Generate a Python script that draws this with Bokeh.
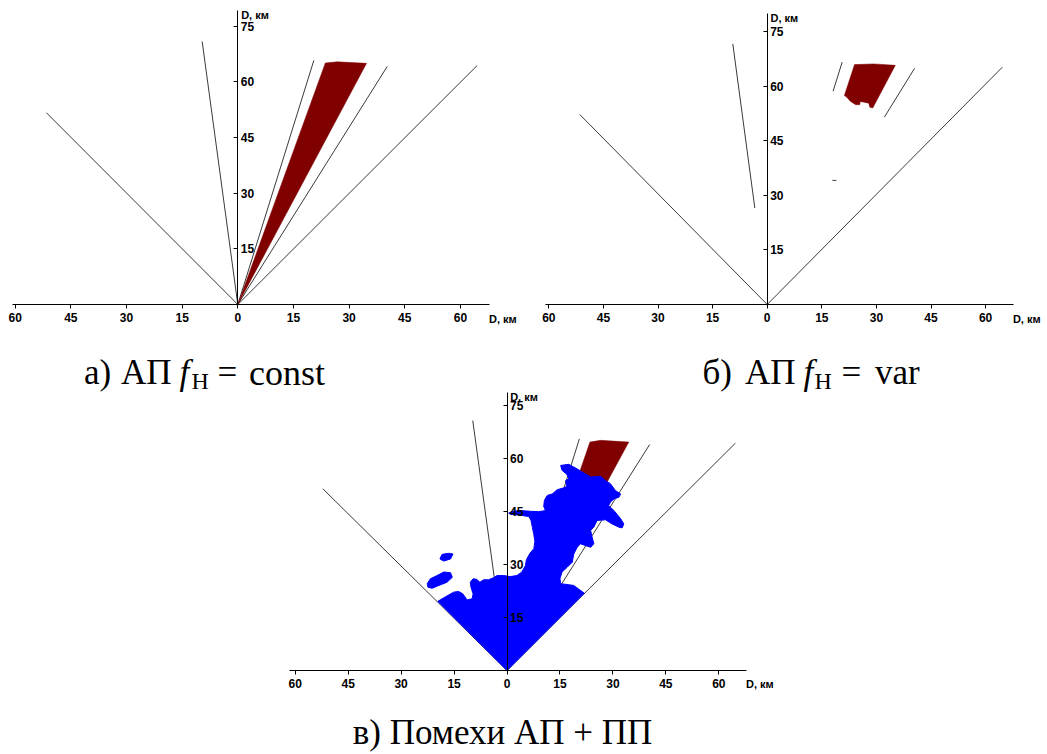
from bokeh.plotting import figure
from bokeh.models import Range1d, LinearAxis, FixedTicker
from bokeh.embed import file_html
from bokeh.resources import INLINE
from bokeh.core.properties import value

W, H = 1047, 754

# ---------------- data (km) ----------------
X_TICKS = [-60, -45, -30, -15, 0, 15, 30, 45, 60]
X_TICK_LABELS = ["60", "45", "30", "15", "0", "15", "30", "45", "60"]
Y_TICKS = [15, 30, 45, 60, 75]
Y_TICK_LABELS = ["15", "30", "45", "60", "75"]
AXIS_TITLE = "D, км"

# panel а) : beam lines from the origin and the clutter wedge
A_LINE_X = [-51.6, -9.6, 20.5, 40.3, 64.5]
A_LINE_Y = [51.7, 70.9, 65.8, 64.2, 64.4]
A_RED_X = [0.0, 23.6, 26.8, 34.7]
A_RED_Y = [0.0, 65.1, 65.4, 65.0]

# panel б)
B_LINE_X = [-51.5, 64.6]
B_LINE_Y = [52.2, 65.2]
B_SEG_X0 = [-9.45, 20.6, 40.5, 17.9]
B_SEG_Y0 = [71.6, 66.6, 64.9, 34.1]
B_SEG_X1 = [-3.4, 18.1, 32.2, 19.0]
B_SEG_Y1 = [26.5, 58.6, 51.5, 34.1]
B_RED_X = [24.0, 29.3, 35.2, 29.0, 28.2, 27.9, 25.6, 25.4, 24.3, 22.9, 21.8, 21.2]
B_RED_Y = [65.9, 66.1, 65.7, 54.0, 54.2, 55.3, 55.8, 54.9, 54.9, 55.8, 57.0, 57.4]

# panel в)
C_LINE_X = [-52.2, -9.7, 20.5, 40.4, 64.7]
C_LINE_Y = [51.5, 70.8, 65.6, 64.0, 64.4]
C_RED_X = [23.5, 26.5, 34.5, 27.6, 19.8]
C_RED_Y = [64.7, 65.2, 64.7, 52.0, 54.0]
C_BLUE_X = [0.0, -19.6, -17.9, -16.5, -15.1, -13.7, -12.5, -11.3, -9.9, -9.6, -10.2, -10.4,
            -9.6, -8.5, -7.7, -6.6, -5.2, -3.8, -2.8, -0.9, 0.9, 2.8, 4.2, 5.2, 5.5, 6.5,
            7.6, 7.9, 7.6, 7.2, 6.8, 6.2, 3.8, 1.0, 0.5, 1.5, 3.8, 6.7, 9.0, 10.9, 10.4,
            10.6, 11.4, 12.8, 14.2, 16.6, 16.9, 16.6, 17.5, 17.0, 15.6, 15.2, 17.5, 19.9,
            21.3, 23.7, 26.5, 27.9, 29.3, 30.7, 32.2, 31.7, 30.3, 29.3, 28.8, 30.3, 32.2,
            33.1, 32.6, 31.7, 29.8, 27.9, 25.5, 24.6, 23.7, 24.1, 24.6, 23.7, 22.2, 20.8,
            19.9, 18.9, 18.5, 17.1, 15.6, 15.0, 15.2, 18.9, 21.9]
C_BLUE_Y = [0.0, 19.6, 20.6, 21.4, 22.2, 22.4, 21.7, 20.0, 20.3, 21.7, 23.6, 25.0,
            26.0, 25.8, 25.0, 25.7, 25.7, 26.3, 26.9, 26.9, 26.6, 26.9, 27.9, 29.7, 31.4, 33.2,
            34.5, 36.6, 38.5, 40.5, 42.5, 43.6, 44.0, 44.2, 44.6, 45.1, 45.3, 45.1, 45.0, 45.3, 46.5,
            48.2, 49.6, 50.0, 51.2, 51.9, 52.4, 53.8, 54.3, 55.5, 56.7, 58.1, 58.4, 57.1,
            56.2, 54.8, 55.0, 53.8, 52.9, 51.0, 50.0, 49.1, 48.6, 47.7, 46.7, 45.3, 43.0,
            41.5, 40.4, 40.6, 41.5, 42.7, 42.5, 40.6, 39.7, 37.8, 35.9, 34.9, 35.4, 35.9,
            34.9, 33.0, 30.7, 29.3, 27.9, 26.0, 24.6, 24.1, 21.9]
C_BLOB1_X = [-19.0, -18.4, -16.5, -15.3, -16.0, -17.9]
C_BLOB1_Y = [31.6, 32.9, 33.2, 33.0, 31.6, 31.0]
C_BLOB2_X = [-22.6, -21.7, -19.8, -17.9, -16.0, -15.5, -17.0, -19.3, -21.2, -22.4]
C_BLOB2_Y = [24.6, 26.0, 26.9, 27.9, 27.7, 26.4, 25.0, 24.1, 23.3, 23.6]

# ---------------- layout (page pixels) ----------------
PANELS = {"a": (237.3, 304.0, 3.71), "b": (766.7, 304.0, 3.64), "c": (506.5, 670.0, 3.53)}
X_BOUNDS = {"a": (-60.8, 67.8), "b": (-60.9, 67.6), "c": (-61.5, 67.8)}
Y_TOP = {"a": 79.2, "b": 79.9, "c": 78.8}

LINE_COLOR = "#3a3a3a"
RED = "#800000"
BLUE = "#0000ff"

p = figure(width=W, height=H, x_range=Range1d(0, W), y_range=Range1d(H, 0),
           x_axis_type=None, y_axis_type=None, toolbar_location=None,
           output_backend="svg", min_border=0)
p.outline_line_color = None
p.background_fill_color = "white"
p.border_fill_color = "white"
p.grid.visible = False

for k, (ox, oy, s) in PANELS.items():
    p.extra_x_ranges["x" + k] = Range1d(-ox / s, (W - ox) / s)
    p.extra_y_ranges["y" + k] = Range1d((oy - H) / s, oy / s)

def R(k):
    return dict(x_range_name="x" + k, y_range_name="y" + k)

# panel a
p.multi_line(xs=[[0, x] for x in A_LINE_X], ys=[[0, y] for y in A_LINE_Y],
             line_color=LINE_COLOR, line_width=1, **R("a"))
p.patch(A_RED_X, A_RED_Y, fill_color=RED, line_color=RED, line_width=0.5, **R("a"))

# panel b
p.multi_line(xs=[[0, x] for x in B_LINE_X], ys=[[0, y] for y in B_LINE_Y],
             line_color=LINE_COLOR, line_width=1, **R("b"))
p.segment(x0=B_SEG_X0, y0=B_SEG_Y0, x1=B_SEG_X1, y1=B_SEG_Y1,
          line_color=LINE_COLOR, line_width=1, **R("b"))
p.patch(B_RED_X, B_RED_Y, fill_color=RED, line_color=RED, line_width=0.5, **R("b"))

# panel c
p.multi_line(xs=[[0, x] for x in C_LINE_X], ys=[[0, y] for y in C_LINE_Y],
             line_color=LINE_COLOR, line_width=1, **R("c"))
p.patch(C_RED_X, C_RED_Y, fill_color=RED, line_color=RED, line_width=0.5, **R("c"))
p.patches([C_BLUE_X, C_BLOB1_X, C_BLOB2_X], [C_BLUE_Y, C_BLOB1_Y, C_BLOB2_Y],
          fill_color=BLUE, line_color=BLUE, line_width=1, **R("c"))

for k in PANELS:
    xa = LinearAxis(fixed_location=0, bounds=X_BOUNDS[k],
                    ticker=FixedTicker(ticks=X_TICKS, minor_ticks=[]),
                    major_label_overrides=dict(zip(X_TICKS, X_TICK_LABELS)),
                    axis_line_color="black", axis_line_width=1,
                    major_tick_line_color="black", major_tick_out=4, major_tick_in=0,
                    minor_tick_line_color=None,
                    major_label_text_font="Liberation Sans",
                    major_label_text_font_style="bold",
                    major_label_text_font_size="12px",
                    major_label_text_color="black",
                    major_label_standoff=4, **R(k))
    p.add_layout(xa, "below")
    ya = LinearAxis(fixed_location=0, bounds=(0, Y_TOP[k]),
                    ticker=FixedTicker(ticks=Y_TICKS, minor_ticks=[]),
                    major_label_overrides=dict(zip(Y_TICKS, Y_TICK_LABELS)),
                    axis_line_color="black", axis_line_width=1,
                    major_tick_line_color="black", major_tick_out=0, major_tick_in=4,
                    minor_tick_line_color=None,
                    major_label_text_font="Liberation Sans",
                    major_label_text_font_style="bold",
                    major_label_text_font_size="12px",
                    major_label_text_color="black",
                    major_label_standoff=3, **R(k))
    p.add_layout(ya, "right")
    # axis titles
    p.text(x=[X_BOUNDS[k][1] - 0.1, 0.9], y=[-3.9, Y_TOP[k] - 1.3],
           text=[AXIS_TITLE, AXIS_TITLE], text_font=value("Liberation Sans"),
           text_font_style="bold", text_font_size="11px", text_color="black",
           text_align="left", text_baseline="middle", **R(k))

# captions (page pixel coordinates; y is the text centre line)
SERIF = value("Liberation Serif")
def cap(x, y, t, size="35px", style="normal", align="left"):
    p.text(x=[x], y=[y], text=[t], text_font=SERIF, text_font_size=size,
           text_font_style=style, text_color="black", text_align=align,
           text_baseline="middle")

CY_TOP = 372.0
cap(83.5, CY_TOP, "а)")
cap(120.5, CY_TOP, "АП")
cap(179.0, CY_TOP, "f", style="italic")
cap(191.0, CY_TOP + 8.0, "Н", size="24px")
cap(217.0, CY_TOP, "=")
cap(248.5, CY_TOP, "const", size="36px")

cap(702.0, CY_TOP, "б)")
cap(744.5, CY_TOP, "АП")
cap(803.0, CY_TOP, "f", style="italic")
cap(814.0, CY_TOP + 8.0, "Н", size="24px")
cap(841.0, CY_TOP, "=")
cap(874.5, CY_TOP, "var")

cap(502.0, 732.0, "в) Помехи АП + ПП", align="center")

open("out.html", "w").write(file_html(p, INLINE))
